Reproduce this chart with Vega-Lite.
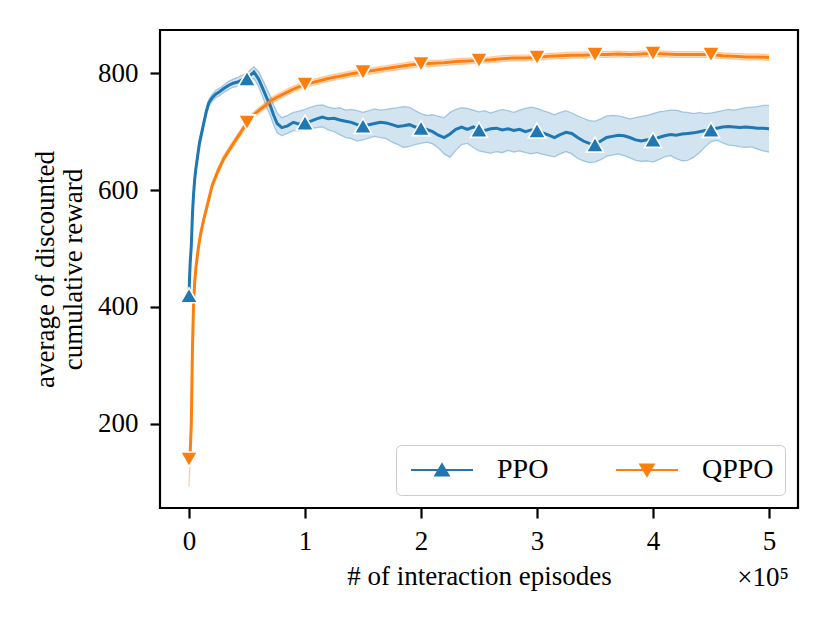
{
  "$schema": "https://vega.github.io/schema/vega-lite/v6.json",
  "width": 638,
  "height": 478,
  "autosize": {"type": "none"},
  "padding": {"left": 160, "top": 30, "right": 32, "bottom": 115},
  "background": "white",
  "datasets": {
    "curves": [
      {"s":"PPO","x":0,"m":420,"lo":414,"hi":426},
      {"s":"PPO","x":0.005,"m":450,"lo":444,"hi":456},
      {"s":"PPO","x":0.01,"m":475,"lo":469,"hi":481},
      {"s":"PPO","x":0.02,"m":505,"lo":499,"hi":511},
      {"s":"PPO","x":0.03,"m":560,"lo":554,"hi":566},
      {"s":"PPO","x":0.04,"m":595,"lo":589,"hi":601},
      {"s":"PPO","x":0.05,"m":620,"lo":614,"hi":626},
      {"s":"PPO","x":0.06,"m":638,"lo":632,"hi":644},
      {"s":"PPO","x":0.07,"m":652,"lo":646,"hi":658},
      {"s":"PPO","x":0.09,"m":680,"lo":674,"hi":686},
      {"s":"PPO","x":0.12,"m":708,"lo":702,"hi":714},
      {"s":"PPO","x":0.15,"m":735,"lo":729,"hi":741},
      {"s":"PPO","x":0.17,"m":749,"lo":743,"hi":755},
      {"s":"PPO","x":0.2,"m":758,"lo":752,"hi":764},
      {"s":"PPO","x":0.23,"m":764,"lo":758,"hi":771},
      {"s":"PPO","x":0.26,"m":768,"lo":761,"hi":774},
      {"s":"PPO","x":0.3,"m":774,"lo":767,"hi":780},
      {"s":"PPO","x":0.34,"m":779,"lo":772,"hi":786},
      {"s":"PPO","x":0.38,"m":783,"lo":776,"hi":790},
      {"s":"PPO","x":0.42,"m":785,"lo":778,"hi":793},
      {"s":"PPO","x":0.46,"m":789,"lo":781,"hi":797},
      {"s":"PPO","x":0.5,"m":791,"lo":782,"hi":800},
      {"s":"PPO","x":0.53,"m":797,"lo":787,"hi":806},
      {"s":"PPO","x":0.56,"m":802,"lo":791,"hi":811},
      {"s":"PPO","x":0.6,"m":790,"lo":777,"hi":803},
      {"s":"PPO","x":0.64,"m":772,"lo":757,"hi":787},
      {"s":"PPO","x":0.67,"m":758,"lo":741,"hi":774},
      {"s":"PPO","x":0.7,"m":745,"lo":728,"hi":762},
      {"s":"PPO","x":0.73,"m":728,"lo":711,"hi":746},
      {"s":"PPO","x":0.76,"m":714,"lo":698,"hi":732},
      {"s":"PPO","x":0.8,"m":707,"lo":693,"hi":724},
      {"s":"PPO","x":0.85,"m":710,"lo":697,"hi":728},
      {"s":"PPO","x":0.9,"m":716,"lo":702,"hi":733},
      {"s":"PPO","x":0.95,"m":713,"lo":701,"hi":735},
      {"s":"PPO","x":1.0,"m":715,"lo":703,"hi":738},
      {"s":"PPO","x":1.05,"m":718,"lo":705,"hi":742},
      {"s":"PPO","x":1.1,"m":722,"lo":707,"hi":745},
      {"s":"PPO","x":1.15,"m":725,"lo":708,"hi":746},
      {"s":"PPO","x":1.2,"m":722,"lo":703,"hi":742},
      {"s":"PPO","x":1.25,"m":723,"lo":700,"hi":740},
      {"s":"PPO","x":1.3,"m":720,"lo":695,"hi":741},
      {"s":"PPO","x":1.35,"m":718,"lo":690,"hi":737},
      {"s":"PPO","x":1.4,"m":716,"lo":688,"hi":738},
      {"s":"PPO","x":1.45,"m":712,"lo":684,"hi":736},
      {"s":"PPO","x":1.5,"m":710,"lo":686,"hi":733},
      {"s":"PPO","x":1.55,"m":712,"lo":689,"hi":736},
      {"s":"PPO","x":1.6,"m":714,"lo":692,"hi":739},
      {"s":"PPO","x":1.65,"m":716,"lo":690,"hi":737},
      {"s":"PPO","x":1.7,"m":715,"lo":688,"hi":738},
      {"s":"PPO","x":1.75,"m":712,"lo":682,"hi":740},
      {"s":"PPO","x":1.8,"m":709,"lo":678,"hi":741},
      {"s":"PPO","x":1.85,"m":710,"lo":673,"hi":743},
      {"s":"PPO","x":1.9,"m":712,"lo":675,"hi":742},
      {"s":"PPO","x":1.95,"m":708,"lo":678,"hi":736},
      {"s":"PPO","x":2.0,"m":706,"lo":680,"hi":731},
      {"s":"PPO","x":2.05,"m":704,"lo":682,"hi":728},
      {"s":"PPO","x":2.1,"m":700,"lo":679,"hi":729},
      {"s":"PPO","x":2.15,"m":694,"lo":672,"hi":726},
      {"s":"PPO","x":2.2,"m":690,"lo":662,"hi":724},
      {"s":"PPO","x":2.25,"m":696,"lo":656,"hi":733},
      {"s":"PPO","x":2.3,"m":704,"lo":668,"hi":738},
      {"s":"PPO","x":2.35,"m":708,"lo":678,"hi":741},
      {"s":"PPO","x":2.4,"m":704,"lo":680,"hi":740},
      {"s":"PPO","x":2.45,"m":708,"lo":673,"hi":737},
      {"s":"PPO","x":2.5,"m":703,"lo":667,"hi":734},
      {"s":"PPO","x":2.55,"m":702,"lo":665,"hi":736},
      {"s":"PPO","x":2.6,"m":705,"lo":663,"hi":732},
      {"s":"PPO","x":2.65,"m":706,"lo":666,"hi":735},
      {"s":"PPO","x":2.7,"m":703,"lo":664,"hi":738},
      {"s":"PPO","x":2.75,"m":705,"lo":668,"hi":736},
      {"s":"PPO","x":2.8,"m":702,"lo":665,"hi":733},
      {"s":"PPO","x":2.85,"m":704,"lo":667,"hi":737},
      {"s":"PPO","x":2.9,"m":700,"lo":664,"hi":740},
      {"s":"PPO","x":2.95,"m":703,"lo":662,"hi":742},
      {"s":"PPO","x":3.0,"m":702,"lo":664,"hi":740},
      {"s":"PPO","x":3.05,"m":698,"lo":661,"hi":736},
      {"s":"PPO","x":3.1,"m":694,"lo":659,"hi":733},
      {"s":"PPO","x":3.15,"m":690,"lo":657,"hi":729},
      {"s":"PPO","x":3.2,"m":695,"lo":662,"hi":733},
      {"s":"PPO","x":3.25,"m":699,"lo":666,"hi":736},
      {"s":"PPO","x":3.3,"m":697,"lo":662,"hi":732},
      {"s":"PPO","x":3.35,"m":690,"lo":654,"hi":727},
      {"s":"PPO","x":3.4,"m":684,"lo":650,"hi":723},
      {"s":"PPO","x":3.45,"m":680,"lo":647,"hi":719},
      {"s":"PPO","x":3.5,"m":678,"lo":648,"hi":718},
      {"s":"PPO","x":3.55,"m":684,"lo":652,"hi":722},
      {"s":"PPO","x":3.6,"m":690,"lo":658,"hi":727},
      {"s":"PPO","x":3.65,"m":692,"lo":660,"hi":728},
      {"s":"PPO","x":3.7,"m":694,"lo":662,"hi":727},
      {"s":"PPO","x":3.75,"m":693,"lo":659,"hi":725},
      {"s":"PPO","x":3.8,"m":690,"lo":655,"hi":722},
      {"s":"PPO","x":3.85,"m":686,"lo":651,"hi":724},
      {"s":"PPO","x":3.9,"m":684,"lo":649,"hi":726},
      {"s":"PPO","x":3.95,"m":686,"lo":650,"hi":728},
      {"s":"PPO","x":4.0,"m":686,"lo":648,"hi":731},
      {"s":"PPO","x":4.05,"m":690,"lo":652,"hi":734},
      {"s":"PPO","x":4.1,"m":693,"lo":657,"hi":735},
      {"s":"PPO","x":4.15,"m":695,"lo":659,"hi":737},
      {"s":"PPO","x":4.2,"m":694,"lo":654,"hi":737},
      {"s":"PPO","x":4.25,"m":696,"lo":650,"hi":734},
      {"s":"PPO","x":4.3,"m":697,"lo":651,"hi":733},
      {"s":"PPO","x":4.35,"m":698,"lo":656,"hi":731},
      {"s":"PPO","x":4.4,"m":700,"lo":664,"hi":733},
      {"s":"PPO","x":4.45,"m":702,"lo":674,"hi":731},
      {"s":"PPO","x":4.5,"m":703,"lo":683,"hi":732},
      {"s":"PPO","x":4.55,"m":706,"lo":685,"hi":734},
      {"s":"PPO","x":4.6,"m":708,"lo":681,"hi":736},
      {"s":"PPO","x":4.65,"m":709,"lo":677,"hi":738},
      {"s":"PPO","x":4.7,"m":708,"lo":676,"hi":737},
      {"s":"PPO","x":4.75,"m":707,"lo":674,"hi":739},
      {"s":"PPO","x":4.8,"m":708,"lo":673,"hi":741},
      {"s":"PPO","x":4.85,"m":707,"lo":674,"hi":742},
      {"s":"PPO","x":4.9,"m":706,"lo":670,"hi":743},
      {"s":"PPO","x":4.95,"m":706,"lo":667,"hi":745},
      {"s":"PPO","x":5.0,"m":705,"lo":665,"hi":745},
      {"s":"QPPO","x":0,"m":139,"lo":92,"hi":146},
      {"s":"QPPO","x":0.01,"m":150,"lo":141,"hi":158},
      {"s":"QPPO","x":0.02,"m":200,"lo":192,"hi":208},
      {"s":"QPPO","x":0.03,"m":330,"lo":323,"hi":337},
      {"s":"QPPO","x":0.04,"m":410,"lo":404,"hi":416},
      {"s":"QPPO","x":0.05,"m":445,"lo":440,"hi":450},
      {"s":"QPPO","x":0.06,"m":468,"lo":463,"hi":473},
      {"s":"QPPO","x":0.08,"m":500,"lo":495,"hi":505},
      {"s":"QPPO","x":0.1,"m":525,"lo":520,"hi":530},
      {"s":"QPPO","x":0.125,"m":548,"lo":543,"hi":553},
      {"s":"QPPO","x":0.15,"m":568,"lo":563,"hi":573},
      {"s":"QPPO","x":0.2,"m":608,"lo":603,"hi":613},
      {"s":"QPPO","x":0.25,"m":633,"lo":628,"hi":638},
      {"s":"QPPO","x":0.3,"m":654,"lo":649,"hi":659},
      {"s":"QPPO","x":0.35,"m":670,"lo":665,"hi":675},
      {"s":"QPPO","x":0.4,"m":685,"lo":680,"hi":690},
      {"s":"QPPO","x":0.45,"m":700,"lo":695,"hi":705},
      {"s":"QPPO","x":0.5,"m":716,"lo":711,"hi":721},
      {"s":"QPPO","x":0.55,"m":727,"lo":722,"hi":732},
      {"s":"QPPO","x":0.6,"m":736,"lo":731,"hi":741},
      {"s":"QPPO","x":0.66,"m":745,"lo":740,"hi":750},
      {"s":"QPPO","x":0.7,"m":752,"lo":747,"hi":757},
      {"s":"QPPO","x":0.75,"m":758,"lo":753,"hi":763},
      {"s":"QPPO","x":0.83,"m":766,"lo":761,"hi":771},
      {"s":"QPPO","x":0.9,"m":773,"lo":768,"hi":778},
      {"s":"QPPO","x":1.0,"m":781,"lo":776,"hi":786},
      {"s":"QPPO","x":1.1,"m":786,"lo":781,"hi":791},
      {"s":"QPPO","x":1.2,"m":791,"lo":786,"hi":796},
      {"s":"QPPO","x":1.3,"m":795,"lo":790,"hi":800},
      {"s":"QPPO","x":1.4,"m":799,"lo":794,"hi":804},
      {"s":"QPPO","x":1.5,"m":802,"lo":797,"hi":807},
      {"s":"QPPO","x":1.6,"m":805,"lo":800,"hi":810},
      {"s":"QPPO","x":1.7,"m":808,"lo":803,"hi":813},
      {"s":"QPPO","x":1.8,"m":811,"lo":806,"hi":816},
      {"s":"QPPO","x":1.9,"m":814,"lo":809,"hi":819},
      {"s":"QPPO","x":2.0,"m":816,"lo":811,"hi":821},
      {"s":"QPPO","x":2.1,"m":817,"lo":812,"hi":822},
      {"s":"QPPO","x":2.2,"m":818,"lo":813,"hi":823},
      {"s":"QPPO","x":2.3,"m":820,"lo":815,"hi":825},
      {"s":"QPPO","x":2.4,"m":821,"lo":816,"hi":826},
      {"s":"QPPO","x":2.5,"m":822,"lo":817,"hi":827},
      {"s":"QPPO","x":2.6,"m":823,"lo":818,"hi":828},
      {"s":"QPPO","x":2.7,"m":825,"lo":820,"hi":830},
      {"s":"QPPO","x":2.8,"m":826,"lo":821,"hi":831},
      {"s":"QPPO","x":2.9,"m":826,"lo":821,"hi":831},
      {"s":"QPPO","x":3.0,"m":827,"lo":822,"hi":832},
      {"s":"QPPO","x":3.1,"m":829,"lo":824,"hi":834},
      {"s":"QPPO","x":3.2,"m":830,"lo":825,"hi":835},
      {"s":"QPPO","x":3.3,"m":831,"lo":826,"hi":836},
      {"s":"QPPO","x":3.4,"m":831,"lo":826,"hi":836},
      {"s":"QPPO","x":3.5,"m":832,"lo":827,"hi":837},
      {"s":"QPPO","x":3.6,"m":832,"lo":827,"hi":837},
      {"s":"QPPO","x":3.7,"m":833,"lo":828,"hi":838},
      {"s":"QPPO","x":3.8,"m":832,"lo":827,"hi":837},
      {"s":"QPPO","x":3.9,"m":833,"lo":828,"hi":838},
      {"s":"QPPO","x":4.0,"m":834,"lo":829,"hi":839},
      {"s":"QPPO","x":4.1,"m":833,"lo":828,"hi":838},
      {"s":"QPPO","x":4.2,"m":832,"lo":827,"hi":837},
      {"s":"QPPO","x":4.3,"m":832,"lo":827,"hi":837},
      {"s":"QPPO","x":4.4,"m":832,"lo":827,"hi":837},
      {"s":"QPPO","x":4.5,"m":832,"lo":827,"hi":837},
      {"s":"QPPO","x":4.6,"m":830,"lo":825,"hi":835},
      {"s":"QPPO","x":4.7,"m":829,"lo":824,"hi":834},
      {"s":"QPPO","x":4.8,"m":828,"lo":823,"hi":833},
      {"s":"QPPO","x":4.9,"m":828,"lo":823,"hi":833},
      {"s":"QPPO","x":5.0,"m":827,"lo":822,"hi":832}
    ],
    "markers": [
      {"s":"PPO","x":0,"m":420},
      {"s":"PPO","x":0.5,"m":791},
      {"s":"PPO","x":1.0,"m":715},
      {"s":"PPO","x":1.5,"m":710},
      {"s":"PPO","x":2.0,"m":706},
      {"s":"PPO","x":2.5,"m":703},
      {"s":"PPO","x":3.0,"m":702},
      {"s":"PPO","x":3.5,"m":678},
      {"s":"PPO","x":4.0,"m":686},
      {"s":"PPO","x":4.5,"m":703},
      {"s":"QPPO","x":0,"m":139},
      {"s":"QPPO","x":0.5,"m":716},
      {"s":"QPPO","x":1.0,"m":781},
      {"s":"QPPO","x":1.5,"m":802},
      {"s":"QPPO","x":2.0,"m":816},
      {"s":"QPPO","x":2.5,"m":822},
      {"s":"QPPO","x":3.0,"m":827},
      {"s":"QPPO","x":3.5,"m":832},
      {"s":"QPPO","x":4.0,"m":834},
      {"s":"QPPO","x":4.5,"m":832}
    ]
  },
  "title": {
    "text": "×10⁵",
    "orient": "bottom",
    "anchor": "end",
    "offset": -24,
    "dx": -9,
    "font": "Liberation Serif",
    "fontSize": 27,
    "fontWeight": "normal",
    "color": "black"
  },
  "config": {
    "view": {"stroke": "black", "strokeWidth": 2.2},
    "font": "Liberation Serif",
    "axis": {
      "grid": false,
      "domain": false,
      "ticks": true,
      "tickColor": "black",
      "tickWidth": 2.2,
      "tickSize": 10,
      "labelFont": "Liberation Serif",
      "labelFontSize": 27,
      "labelColor": "black",
      "titleFont": "Liberation Serif",
      "titleFontSize": 27,
      "titleFontWeight": "normal",
      "titleColor": "black"
    }
  },
  "encoding": {
    "x": {
      "field": "x",
      "type": "quantitative",
      "scale": {"domain": [-0.25, 5.25], "nice": false, "zero": false},
      "axis": {
        "title": "# of interaction episodes",
        "values": [0, 1, 2, 3, 4, 5],
        "format": "d",
        "labelFlush": false,
        "labelPadding": 10,
        "titlePadding": 9
      }
    },
    "y": {
      "type": "quantitative",
      "scale": {"domain": [56, 874], "nice": false, "zero": false},
      "axis": {
        "title": ["average of discounted", "cumulative reward"],
        "titleLineHeight": 28,
        "titlePadding": 10,
        "values": [200, 400, 600, 800],
        "labelPadding": 12
      }
    },
    "color": {
      "field": "s",
      "type": "nominal",
      "scale": {"domain": ["PPO", "QPPO"], "range": ["#1f77b4", "#ff7f0e"]},
      "legend": {
        "title": null,
        "orient": "bottom-right",
        "offset": 13,
        "direction": "horizontal",
        "padding": 11,
        "fillColor": "rgba(255,255,255,0.8)",
        "strokeColor": "#cccccc",
        "cornerRadius": 5,
        "labelFont": "Liberation Serif",
        "labelFontSize": 28,
        "labelColor": "black",
        "symbolSize": 400,
        "labelOffset": 62,
        "columnPadding": 62,
        "encode": {
          "symbols": {
            "update": {
              "shape": {"signal": "datum.value === 'PPO' ? 'M-1,0L5.2,0M2.1,-0.55L2.75,0.55L1.45,0.55Z' : 'M-1,0L5.2,0M2.1,0.55L2.75,-0.55L1.45,-0.55Z'"},
              "size": {"value": 400},
              "fill": {"scale": "color", "field": "value"},
              "stroke": {"scale": "color", "field": "value"},
              "opacity": {"value": 1},
              "fillOpacity": {"value": 1},
              "strokeOpacity": {"value": 1},
              "strokeWidth": {"value": 2.2}
            }
          }
        }
      }
    }
  },
  "layer": [
    {
      "data": {"name": "curves"},
      "mark": {"type": "area", "opacity": 0.2},
      "encoding": {
        "y": {"field": "lo", "type": "quantitative"},
        "y2": {"field": "hi"}
      }
    },
    {
      "data": {"name": "curves"},
      "mark": {"type": "line", "strokeWidth": 1.3, "opacity": 0.35},
      "encoding": {"y": {"field": "lo", "type": "quantitative"}}
    },
    {
      "data": {"name": "curves"},
      "mark": {"type": "line", "strokeWidth": 1.3, "opacity": 0.35},
      "encoding": {"y": {"field": "hi", "type": "quantitative"}}
    },
    {
      "data": {"name": "curves"},
      "mark": {"type": "line", "strokeWidth": 3},
      "encoding": {"y": {"field": "m", "type": "quantitative"}}
    },
    {
      "data": {"name": "markers"},
      "transform": [{"filter": "datum.s === 'PPO'"}],
      "mark": {"type": "point", "shape": "triangle-up", "filled": true, "opacity": 1, "size": 300, "stroke": "white", "strokeWidth": 1.6},
      "encoding": {"y": {"field": "m", "type": "quantitative"}}
    },
    {
      "data": {"name": "markers"},
      "transform": [{"filter": "datum.s === 'QPPO'"}],
      "mark": {"type": "point", "shape": "triangle-down", "filled": true, "opacity": 1, "size": 300, "stroke": "white", "strokeWidth": 1.6},
      "encoding": {"y": {"field": "m", "type": "quantitative"}}
    }
  ]
}
